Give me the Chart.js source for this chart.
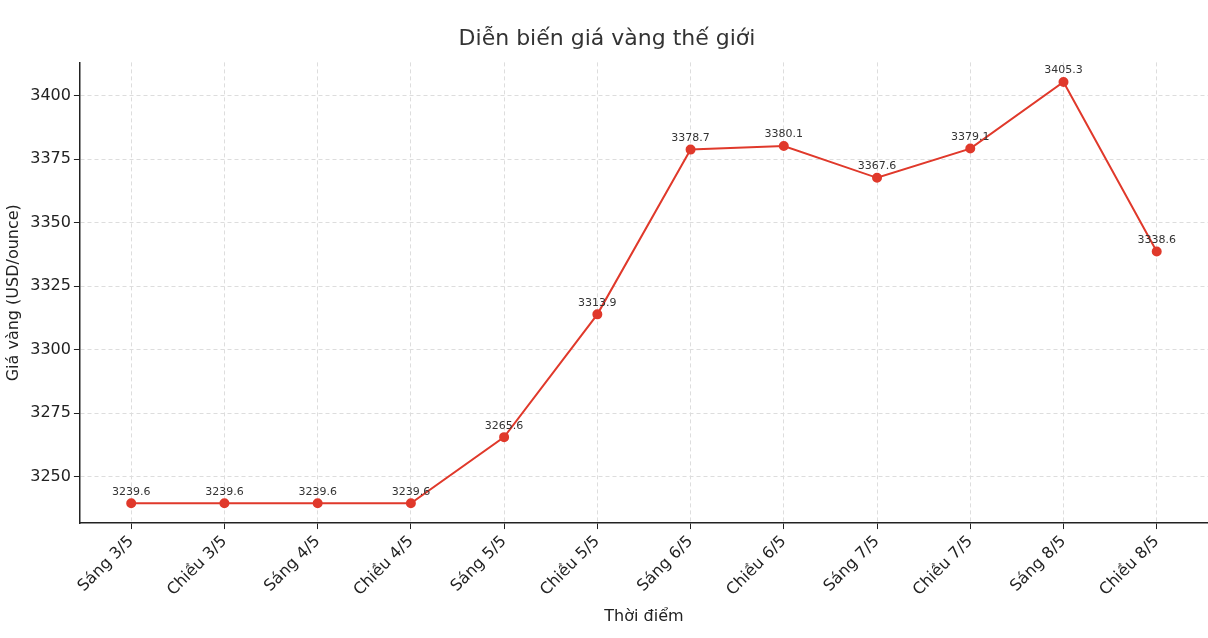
<!DOCTYPE html>
<html><head><meta charset="utf-8">
<script src="https://cdn.jsdelivr.net/npm/chart.js@4/dist/chart.umd.min.js"></script>
<style>html,body{margin:0;padding:0;background:#fff}#w{width:1214px;height:638px}</style>
</head><body><div id="w"><canvas id="c"></canvas></div>
<script>
const categories = ["Sáng 3/5","Chiều 3/5","Sáng 4/5","Chiều 4/5","Sáng 5/5","Chiều 5/5","Sáng 6/5","Chiều 6/5","Sáng 7/5","Chiều 7/5","Sáng 8/5","Chiều 8/5"];
const prices = [3239.6,3239.6,3239.6,3239.6,3265.6,3313.9,3378.7,3380.1,3367.6,3379.1,3405.3,3338.6];
const yTicks = [3250,3275,3300,3325,3350,3375,3400];
const F = "DejaVu Sans";
const labelPlugin = {
  id:'lbl',
  afterDatasetsDraw(chart){
    const ctx = chart.ctx, meta = chart.getDatasetMeta(0);
    ctx.save(); ctx.font = "11px "+F; ctx.fillStyle="#333"; ctx.textAlign="center"; ctx.textBaseline="bottom";
    meta.data.forEach((p,i)=>ctx.fillText(prices[i].toFixed(1), p.x, p.y-6));
    ctx.restore();
  }
};
new Chart(document.getElementById('c'),{
  type:'line',
  data:{datasets:[{data:prices.map((v,i)=>({x:i,y:v})),borderColor:'#e0392b',backgroundColor:'#e0392b',borderWidth:2,pointRadius:4,pointHoverRadius:4,tension:0}]},
  options:{responsive:true,maintainAspectRatio:false,animation:false,
    layout:{padding:{top:14,right:0,left:0,bottom:8}},
    plugins:{legend:{display:false},tooltip:{enabled:false},
      title:{display:true,text:'Diễn biến giá vàng thế giới',color:'#333',font:{family:F,size:22,weight:'normal'},padding:{top:12,bottom:10}}},
    scales:{
      x:{type:'linear',min:-0.55,max:11.55,
        afterBuildTicks(s){s.ticks=categories.map((_,i)=>({value:i}));},
        ticks:{autoSkip:false,maxRotation:45,minRotation:45,color:'#222',font:{family:F,size:16},callback:v=>categories[v]},
        grid:{color:'#ddd',tickColor:'#222',tickLength:6},border:{display:true,color:'#222',width:1.5,dash:[4,3]},
        title:{display:true,text:'Thời điểm',color:'#222',font:{family:F,size:16}}},
      y:{min:3231.8,max:3413,
        afterBuildTicks(s){s.ticks=yTicks.map(v=>({value:v}));},
        ticks:{color:'#222',font:{family:F,size:16},callback:v=>String(v)},
        grid:{color:'#ddd',tickColor:'#222',tickLength:6},border:{display:true,color:'#222',width:1.5,dash:[4,3]},
        title:{display:true,text:'Giá vàng (USD/ounce)',color:'#222',font:{family:F,size:16}}}
    }
  },
  plugins:[labelPlugin]
});
</script></body></html>
